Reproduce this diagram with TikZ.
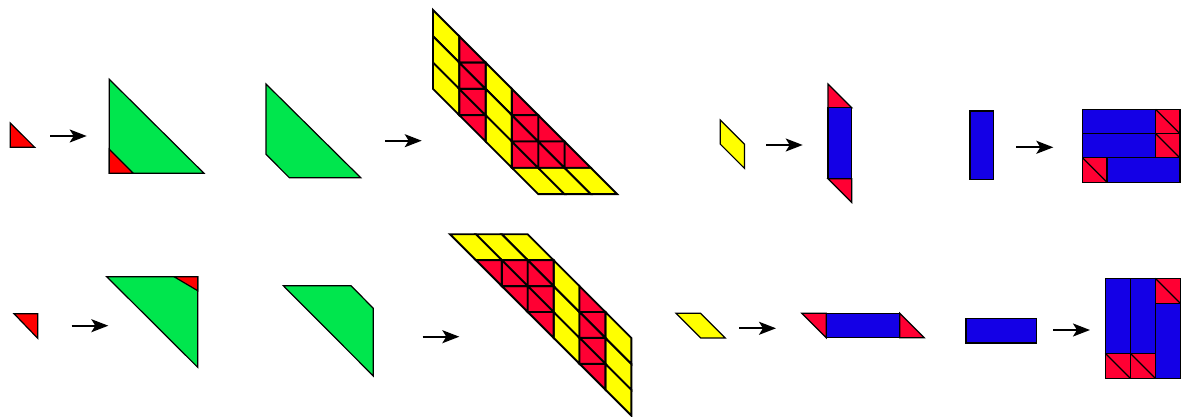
\documentclass[tikz,border=0pt]{standalone}
\usepackage{tikz}
\usetikzlibrary{arrows.meta}
\usepackage{xcolor}
\definecolor{vermelho}{HTML}{FF0000}
\definecolor{carmim}{HTML}{FF0033}
\definecolor{verde}{HTML}{00E64D}
\definecolor{amarelo}{HTML}{FFFF00}
\definecolor{azul}{HTML}{1400E6}

\begin{document}
\begin{tikzpicture}[x=0.5pt, y=-0.5pt, line join=miter,
    peca/.style={draw=black, line width=0.6pt},
    grade/.style={draw=black, line width=0.95pt},
    seta/.style={-{Stealth[length=8.5pt, width=6.5pt, inset=2pt]}, line width=0.9pt}]
  \useasboundingbox (0,0) rectangle (1185,417);

  % setas: cada uma vai de (nome-i) a (nome-f)
  \foreach \xn/\xa/\xb/\xy in {
    sa/50/86.7/136, sb/385/421.7/140.7, sc/766/802.7/145, sd/1016/1053.3/147.3,
    ta/71.7/108.3/325.7, tb/422.7/459.3/336.7, tc/739.3/776/328.3, td/1053.3/1090/330}
  { \coordinate (\xn-i) at (\xa,\xy);
    \coordinate (\xn-f) at (\xb,\xy);
    \draw[seta] (\xn-i) -- (\xn-f); }

  % triangulos pequenos, triangulos verdes e pentagonos
  \path[peca, fill=vermelho] (10.3,123) -- (10.3,147.3) -- (34.7,147.3) -- cycle;
  \path[peca, fill=verde] (109.3,79.3) -- (109.3,173.3) -- (204,173.3) -- cycle;
  \path[peca, fill=vermelho] (109.3,149.3) -- (109.3,173.3) -- (133.3,173.3) -- cycle;
  \path[peca, fill=verde] (266,84) -- (266,154.3) -- (289.3,177.7) -- (360.7,177.7) -- cycle;

  \path[peca, fill=vermelho] (14,313.7) -- (37.7,313.7) -- (37.7,338.3) -- cycle;
  \path[peca, fill=verde] (106.7,276.7) -- (197.7,276.7) -- (197.7,367.3) -- cycle;
  \path[peca, fill=vermelho] (174,276.7) -- (197.7,276.7) -- (197.7,290.7) -- cycle;
  \path[peca, fill=verde] (283.3,285.7) -- (351,285.7) -- (373.3,308.3) -- (373.3,376) -- cycle;

  % as duas grades: a de baixo e a de cima rodada de 180 graus
  \foreach \ox/\oy/\ax/\ay/\ur in {433/10/0/-90/13.15, 631.3/415.6/180/90/12.95}
  { \begin{scope}[shift={(\ox,\oy)}, x={(\ax:\ur pt)}, y={(\ay:\ur pt)}]
      \foreach \xk in {0,1,2}
        \path[grade, fill=amarelo] (0,\xk) -- (1,\xk+1) -- (1,\xk+2) -- (0,\xk+1) -- cycle;
      \foreach \xk in {2,3,4}
        \path[grade, fill=amarelo] (2,\xk) -- (3,\xk+1) -- (3,\xk+2) -- (2,\xk+1) -- cycle;
      \foreach \xk in {3,4,5}
        \path[grade, fill=amarelo] (\xk,6) -- (\xk+1,6) -- (\xk+2,7) -- (\xk+1,7) -- cycle;
      \foreach \xa/\xb in {1/1,1/2,1/3,3/3,3/4,3/5,4/4,4/5,5/5}
        \path[grade, fill=carmim] (\xa,\xb) -- (\xa+1,\xb+1) -- (\xa,\xb+1) -- cycle;
      \foreach \xa/\xb in {1/2,1/3,1/4,3/4,3/5,4/5}
        \path[grade, fill=carmim] (\xa,\xb) -- (\xa+1,\xb) -- (\xa+1,\xb+1) -- cycle;
    \end{scope} }

  % pecas da direita: a linha de baixo e a de cima transposta
  \foreach \ox/\oy/\ax/\ay/\ur in {720.3/120/0/-90/12.1, 676/313.3/-90/0/12.3}
  { \begin{scope}[shift={(\ox,\oy)}, x={(\ax:\ur pt)}, y={(\ay:\ur pt)}]
      \path[peca, fill=amarelo] (0,0) -- (0,1) -- (1,2) -- (1,1) -- cycle;
    \end{scope} }
  \foreach \ox/\oy/\ax/\ay/\ur in {828/84/0/-90/11.85, 801.7/313.3/-90/0/12.25}
  { \begin{scope}[shift={(\ox,\oy)}, x={(\ax:\ur pt)}, y={(\ay:\ur pt)}]
      \path[peca, fill=carmim] (0,0) -- (0,1) -- (1,1) -- cycle;
      \path[peca, fill=azul] (0,1) rectangle (1,4);
      \path[peca, fill=carmim] (0,4) -- (1,4) -- (1,5) -- cycle;
    \end{scope} }
  \foreach \ox/\oy/\ax/\ay/\ur in {970/111/0/-90/11.85, 966/318.7/-90/0/12.1}
  { \begin{scope}[shift={(\ox,\oy)}, x={(\ax:\ur pt)}, y={(\ay:\ur pt)}]
      \path[peca, fill=azul] (0,0) rectangle (1,2.9);
    \end{scope} }
  \foreach \ox/\oy/\ax/\ay/\ur in {1082.7/109.3/0/-90/12.15, 1105.3/278.3/-90/0/12.5}
  { \begin{scope}[shift={(\ox,\oy)}, x={(\ax:\ur pt)}, y={(\ay:\ur pt)}]
      \foreach \xa/\xb in {0/0, 0/1, 1/2}
        \path[peca, fill=azul] (\xa,\xb) rectangle ++(3,1);
      \foreach \xa/\xb in {3/0, 3/1, 0/2}
      { \path[peca, fill=carmim] (\xa,\xb) rectangle ++(1,1);
        \draw[peca] (\xa,\xb) -- ++(1,1); }
    \end{scope} }
\end{tikzpicture}
\end{document}
